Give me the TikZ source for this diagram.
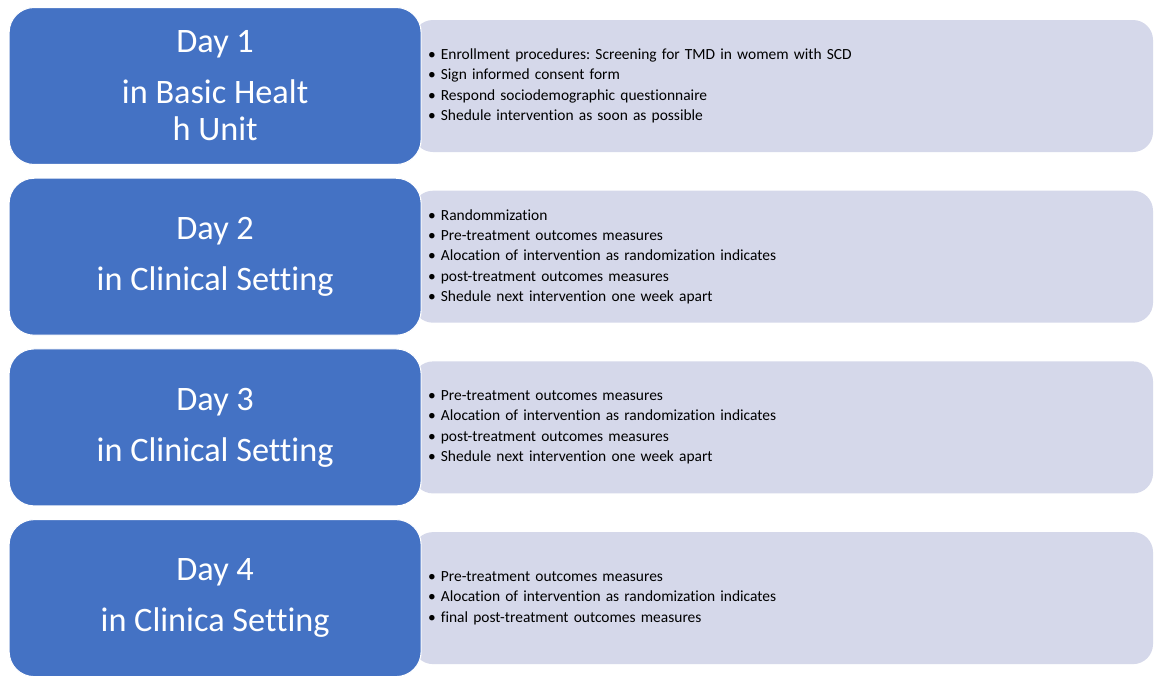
\documentclass[tikz,border=0pt]{standalone}
\usepackage{fontspec}
\setmainfont{Carlito}[RawFeature=-liga]
\usetikzlibrary{positioning}
\definecolor{dayblue}{HTML}{4472C4}
\definecolor{tasklilac}{HTML}{D5D8EA}
\frenchspacing
\tikzset{
  daybox/.style={rectangle, rounded corners=0.5cm, fill=dayblue, draw=white, line width=0.6pt,
    minimum width=8.24cm, minimum height=3.14cm, text=white, align=center,
    font=\fontsize{19.5}{21}\selectfont},
  taskbox/.style={rectangle, rounded corners=0.4cm, fill=tasklilac, minimum width=14.8cm,
    minimum height=2.64cm, inner xsep=0.3cm, text width=14.2cm, align=left,
    font=\fontsize{8.8}{11.6}\selectfont}
}

\begin{document}
\begin{tikzpicture}
  \useasboundingbox[fill=white] (0,0) rectangle (23.1,-13.5);
  % grey task lists
  \node[taskbox] (tasks1) at (15.66,-1.72) {\textbullet\ Enrollment procedures: Screening for TMD in womem with SCD\\
    \textbullet\ Sign informed consent form\\
    \textbullet\ Respond sociodemographic questionnaire\\
    \textbullet\ Shedule intervention as soon as possible};
  \node[taskbox, below=0.76cm of tasks1] (tasks2) {\textbullet\ Randommization\\
    \textbullet\ Pre-treatment outcomes measures\\
    \textbullet\ Alocation of intervention as randomization indicates\\
    \textbullet\ post-treatment outcomes measures\\
    \textbullet\ Shedule next intervention one week apart};
  \node[taskbox, below=0.76cm of tasks2] (tasks3) {\textbullet\ Pre-treatment outcomes measures\\
    \textbullet\ Alocation of intervention as randomization indicates\\
    \textbullet\ post-treatment outcomes measures\\
    \textbullet\ Shedule next intervention one week apart};
  \node[taskbox, below=0.76cm of tasks3] (tasks4) {\textbullet\ Pre-treatment outcomes measures\\
    \textbullet\ Alocation of intervention as randomization indicates\\
    \textbullet\ final post-treatment outcomes measures};
  % blue day boxes
  \node[daybox, left=-0.18cm of tasks1] (day1) {Day 1\\[8pt]in Basic Healt\\h Unit};
  \node[daybox, left=-0.18cm of tasks2] (day2) {Day 2\\[8pt]in Clinical Setting};
  \node[daybox, left=-0.18cm of tasks3] (day3) {Day 3\\[8pt]in Clinical Setting};
  \node[daybox, left=-0.18cm of tasks4] (day4) {Day 4\\[8pt]in Clinica Setting};
\end{tikzpicture}
\end{document}
